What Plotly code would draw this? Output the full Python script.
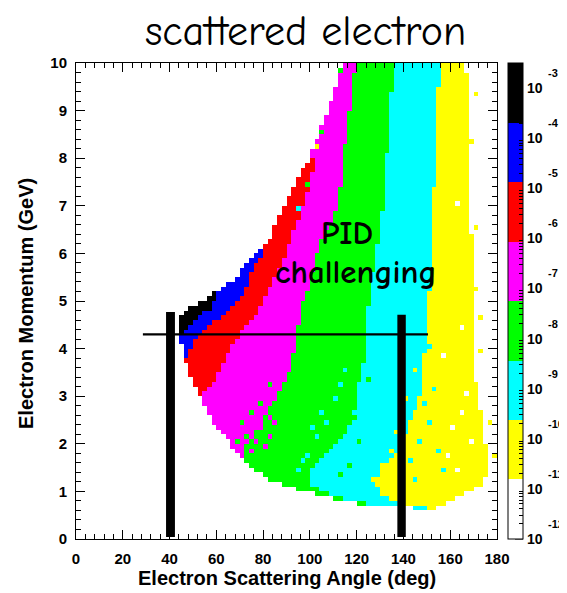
import math
import plotly.graph_objects as go

# ---------------- data ----------------
# histogram binning: 90 angle bins of 2 deg, 100 momentum bins of 0.1 GeV
angle_centers = [1 + 2 * j for j in range(90)]
momentum_centers = [round(0.05 + 0.1 * i, 2) for i in range(100)]

# momentum rows (GeV, bin centres) that contain entries
momentum_rows = [round(0.65 + 0.1 * i, 2) for i in range(94)]

# for every row: first angle with entries, the angles where each colour band starts
# (0 = band not present at the left of that row), and last angle with entries (deg)
edge_lo = [144, 120, 110, 102, 94, 88, 83, 80, 77, 74.5,
           72.5, 70.5, 68.5, 67, 65.5, 63.5, 62, 60.5, 59, 58,
           57, 56, 55, 54, 53, 52, 51, 50, 49, 48.5,
           48, 47, 46.5, 46, 45.5, 45, 44.5, 44, 44, 44,
           44, 45.5, 49, 52.5, 56, 59, 62, 65, 67.5, 69.5,
           71, 73, 75, 77, 79, 80.5, 82, 83.5, 84.5, 85,
           86, 87, 88, 89, 90, 91, 92, 93, 94, 95,
           96, 97, 98.5, 99.5, 100.5, 101, 102, 103, 103.5, 104.5,
           105, 106, 106.5, 107.5, 108, 109, 109.5, 110, 111, 111.5,
           112.5, 113, 113.5, 114]

start_blue = [0] * 37 + [46, 48, 50, 52, 55, 58, 59, 60, 61] + [0] * 48

start_red = [0] * 32 + [48, 49, 50, 51, 52, 53.5, 56, 59, 61.5, 64,
                        67, 68.5, 70, 71.5, 73, 74, 74.5, 75, 75.5, 76.5,
                        78, 79.5, 80.5] + [0] * 39

start_magenta = [0] * 24 + [54, 56, 58, 60, 61, 62, 63, 64, 65, 66,
                            67, 68, 69.5, 71, 72.5, 74, 76, 77.5, 79, 80,
                            81, 82, 83, 84, 85, 86, 87, 88, 89, 90,
                            90.5, 91, 91.5, 92, 93, 94, 95, 96, 96.5, 97,
                            97.5, 98.5, 99, 99.5, 100, 100.5, 101, 101.5, 101.5, 101.5] + [0] * 20

start_green = [0] * 11 + [72, 72.5, 73, 74, 75.5, 77, 78, 79.5, 80.5,
                          81.5, 83, 84.5, 86, 87, 88, 89, 90, 90.5, 91.5,
                          92, 93, 93, 93.5, 94, 94, 94.5, 95, 95, 95.5,
                          95.5, 96, 96.5, 97, 97.5, 98.5, 99.5, 100, 100.5, 101,
                          101.5, 102, 102.5, 103, 103.5, 104.5, 105, 106, 107, 108.5,
                          110, 110.5, 111, 111.5, 112, 112.5, 113, 113, 113.5, 113.5,
                          114, 114, 114, 114.5, 114.5, 115, 115, 115.5, 115.5, 116,
                          116.5, 116.5, 117, 117, 117.5, 117.5, 118, 118, 118.5, 118.5,
                          119, 119, 119.3, 119.3]

start_cyan = [0, 124, 114, 109, 104, 101, 100, 100, 101, 102,
              104, 106, 108, 111, 112.5, 114, 115.5, 116.5, 117.5, 118.5,
              119, 119.5, 119.5, 120, 120, 120.5, 121, 121.5, 122, 122.5,
              123, 123.5, 124, 124, 124, 124, 124.5, 124.5, 124.5, 124.5,
              125, 125, 125, 125.5, 125.5, 126, 126.5, 126.5, 127, 127,
              127.5, 127.5, 128, 128.5, 128.5, 129, 129.5, 129.5, 130, 130,
              130.5, 131, 131, 131.5, 131.5, 132, 132, 132, 132.5, 132.5,
              132.5, 133, 133, 133, 133, 133.5, 133.5, 133.5, 134, 134,
              134, 134.3, 134.5, 134.5, 134.7, 134.8, 135, 135, 135.2, 135.3,
              135.5, 135.5, 135.7, 136]

start_yellow = [150, 138, 134, 131, 130, 129, 129, 130, 131, 133,
                135, 136, 138, 140, 140.5, 141, 141.5, 142.5, 143, 144,
                144.5, 145.5, 146, 147, 147.5, 148, 148, 148.5, 148.5, 148.5,
                148.5, 148.5, 149, 149.5, 150, 150, 150.5, 150.5, 150.5, 150.5,
                150.5, 150.5, 150.5, 151, 151, 151, 151.3, 151.5, 151.5, 151.5,
                151.5, 151.5, 152, 152, 152, 152, 152.5, 152.5, 152.5, 152.5,
                152.5, 152.8, 152.8, 153, 153, 153, 153, 153, 153.3, 153.3,
                153.5, 153.5, 153.5, 153.5, 153.5, 153.8, 154, 154, 154, 154,
                154.2, 154.3, 154.5, 154.5, 154.7, 154.8, 155, 155, 155, 155.2,
                155.3, 155.5, 155.5, 155.6]

edge_hi = [154, 158, 163, 167, 171, 174, 175, 176, 177, 177,
           177, 176, 176, 176, 175, 175, 175, 175, 174, 174,
           174, 173, 173, 173, 172, 172, 172, 171, 171, 171,
           171, 171, 171, 171, 171, 170, 170, 170, 170, 170,
           170, 170, 170, 170, 170, 170, 170, 170, 170, 170,
           170, 170, 170, 170, 170, 170, 170, 170, 169, 169,
           169, 169, 169, 169, 168, 168, 168, 168, 168, 168,
           168, 168, 168, 168, 168, 168, 168, 168, 168, 168,
           168, 168, 168, 168, 168, 168, 168, 168, 168, 168,
           168, 168, 167, 167]

# isolated cells whose colour differs from their neighbourhood (angle, momentum, band)
speck_angle = [81, 83, 85, 79, 87, 83, 77, 89, 85, 81, 91, 75,
               75, 71, 79, 73, 83, 69,
               105, 111, 103, 109, 99, 107, 113, 95, 101, 115, 97,
               121, 117, 119, 125, 113, 123,
               131, 135, 127, 137, 133, 141, 145,
               147, 151, 143, 155, 149, 153, 145, 157, 139, 151,
               161, 165, 159, 167, 163, 169, 157, 165, 163,
               171, 173, 171, 169, 173, 177, 179, 171,
               99, 95, 105, 103, 113]
speck_momentum = [2.75, 2.55, 2.95, 2.35, 3.15, 2.15, 2.05, 3.35, 2.45, 1.95, 3.55, 1.85,
                  2.65, 2.45, 2.85, 2.15, 3.25, 2.05,
                  2.65, 2.95, 2.15, 1.85, 1.75, 2.45, 3.25, 1.45, 2.35, 3.55, 1.65,
                  2.05, 1.55, 2.55, 3.35, 1.35, 3.85,
                  1.55, 1.85, 1.25, 2.25, 1.05, 2.95, 3.55,
                  2.05, 2.45, 1.65, 1.85, 2.85, 3.15, 1.25, 1.45, 1.05, 4.05,
                  2.35, 2.65, 1.75, 3.05, 1.45, 2.05, 3.85, 4.45, 7.05,
                  5.25, 4.65, 6.55, 8.35, 3.95, 2.45, 1.75, 9.35,
                  7.45, 6.95, 8.55, 8.25, 9.85]
speck_band = (["magenta"] * 12 + ["green"] * 6 + ["cyan"] * 11 + ["green"] * 6 +
              ["yellow"] * 7 + ["cyan"] * 10 + ["white"] * 9 + ["yellow"] * 8 +
              ["green", "cyan", "green", "yellow", "green"])

# colour bands of the log10 z scale (bottom to top)
band_names = ["white", "yellow", "cyan", "green", "magenta", "red", "blue", "black"]
band_colors = ["#ffffff", "#ffff00", "#00ffff", "#00ff00", "#ff00ff", "#ff0000", "#0000ff", "#000000"]
zmin, zmax = -12.0, -2.5
colorbar_exponents = [-12, -11, -10, -9, -8, -7, -6, -5, -4, -3]

# ---------------- build the histogram ----------------
step = (zmax - zmin) / len(band_names)
level = {n: zmin + (k + 0.5) * step for k, n in enumerate(band_names)}
left_to_right = ["black", "blue", "red", "magenta", "green", "cyan", "yellow"]

z = [[None] * len(angle_centers) for _ in momentum_centers]
for r, p in enumerate(momentum_rows):
    i = momentum_centers.index(p)
    starts = [start_blue[r], start_red[r], start_magenta[r], start_green[r],
              start_cyan[r], start_yellow[r]]
    for j, a in enumerate(angle_centers):
        if edge_lo[r] <= a < edge_hi[r]:
            b = sum(1 for s in starts if a >= s)
            z[i][j] = level[left_to_right[b]]
for a, p, b in zip(speck_angle, speck_momentum, speck_band):
    i = momentum_centers.index(round(p, 2))
    j = angle_centers.index(a)
    z[i][j] = None if b == "white" else level[b]

colorscale = []
for k, c in enumerate(band_colors):
    colorscale.append([k / len(band_colors), c])
    colorscale.append([(k + 1) / len(band_colors), c])

minor_vals = []
for n in colorbar_exponents:
    for m in range(2, 10):
        v = n + math.log10(m)
        if v < zmax:
            minor_vals.append(v)

# ---------------- figure ----------------
OFF = 8                      # page body margin of the html page
W, H = 567 - OFF, 593 - OFF
X0, X1, Y0, Y1 = 76, 497, 63, 539   # plot frame in window pixels
L, T = X0 - OFF, Y0 - OFF
R, B = W - (X1 - OFF), H - (Y1 - OFF)
pw, ph = X1 - X0, Y1 - Y0


def px(xw):
    return (xw - X0) / pw


def py(yw):
    return (Y1 - yw) / ph


fig = go.Figure()
fig.add_trace(go.Heatmap(
    x=angle_centers, y=momentum_centers, z=z,
    zmin=zmin, zmax=zmax, colorscale=colorscale,
    hoverongaps=False,
    colorbar=dict(
        x=px(508), xanchor="left", xpad=0, ypad=0,
        y=0.5, yanchor="middle", len=1, lenmode="fraction",
        thickness=15, thicknessmode="pixels",
        outlinewidth=1, outlinecolor="black",
        tickmode="array", tickvals=minor_vals, ticks="inside", ticklen=4,
        tickcolor="black", tickwidth=1, showticklabels=False,
    ),
))

axis_font = dict(family="Liberation Sans, Arial, Helvetica, sans-serif", size=15,
                 color="black", weight="bold")
common = dict(showgrid=False, zeroline=False, showline=True, linecolor="black",
              linewidth=1, mirror="allticks", ticks="inside", tickcolor="black",
              tickwidth=1, ticklen=9, tickfont=axis_font)
fig.update_xaxes(range=[0, 180], tick0=0, dtick=20, ticklabelstandoff=6,
                 minor=dict(dtick=4, ticks="inside", ticklen=5, tickcolor="black"),
                 **common)
fig.update_yaxes(range=[0, 10], tick0=0, dtick=1, ticklabelstandoff=5,
                 minor=dict(dtick=0.2, ticks="inside", ticklen=5, tickcolor="black"),
                 **common)

shapes = []
# detector acceptance markers
shapes.append(dict(type="rect", xref="x", yref="y", x0=38.5, x1=42.3, y0=0.04, y1=4.77,
                   fillcolor="black", line=dict(width=0)))
shapes.append(dict(type="rect", xref="x", yref="y", x0=137.4, x1=141.0, y0=0.04, y1=4.71,
                   fillcolor="black", line=dict(width=0)))
shapes.append(dict(type="line", xref="x", yref="y", x0=28.6, x1=150.5, y0=4.3, y1=4.3,
                   line=dict(color="black", width=2.2)))
# longer major ticks on the colour bar
for n in colorbar_exponents:
    yv = (n - zmin) / (zmax - zmin)
    shapes.append(dict(type="line", xref="paper", yref="paper", x0=px(523), x1=px(515),
                       y0=yv, y1=yv, line=dict(color="black", width=1)))
fig.update_layout(shapes=shapes)

comic = "Comic Sans MS, Comic Neue, Noto Sans, sans-serif"
helv = "Liberation Sans, Arial, Helvetica, sans-serif"
ann = []
ann.append(dict(text="scattered electron", xref="paper", yref="paper",
                x=px(305), y=py(31), xanchor="center", yanchor="middle", showarrow=False,
                font=dict(family=comic, size=42, color="black")))
ann.append(dict(text="PID", xref="paper", yref="paper", x=px(347), y=py(233), showarrow=False,
                xanchor="center", yanchor="middle",
                font=dict(family=comic, size=33, color="black", weight="bold")))
ann.append(dict(text="challenging", xref="paper", yref="paper", x=px(356), y=py(272), showarrow=False,
                xanchor="center", yanchor="middle",
                font=dict(family=comic, size=33, color="black", weight="bold")))
ann.append(dict(text="Electron Scattering Angle (deg)", xref="paper", yref="paper",
                x=0.5, y=py(578), xanchor="center", yanchor="middle", showarrow=False,
                font=dict(family=helv, size=20, color="black", weight="bold")))
ann.append(dict(text="Electron Momentum (GeV)", xref="paper", yref="paper", textangle=-90,
                x=px(26), y=py(304), xanchor="center", yanchor="middle", showarrow=False,
                font=dict(family=helv, size=20, color="black", weight="bold")))
for n in colorbar_exponents:
    yv = (n - zmin) / (zmax - zmin)
    ann.append(dict(text="10", xref="paper", yref="paper", x=px(525), y=yv,
                    xanchor="left", yanchor="middle", showarrow=False,
                    font=dict(family=helv, size=14, color="black", weight="bold")))
    ann.append(dict(text=str(n), xref="paper", yref="paper", x=px(546), y=yv, yshift=15,
                    xanchor="left", yanchor="middle", showarrow=False,
                    font=dict(family=helv, size=11, color="black", weight="bold")))
fig.update_layout(annotations=ann)

fig.update_layout(width=W, height=H, autosize=False,
                  margin=dict(l=L, r=R, t=T, b=B, pad=0),
                  paper_bgcolor="white", plot_bgcolor="white", showlegend=False)

fig.write_html("out.html")
